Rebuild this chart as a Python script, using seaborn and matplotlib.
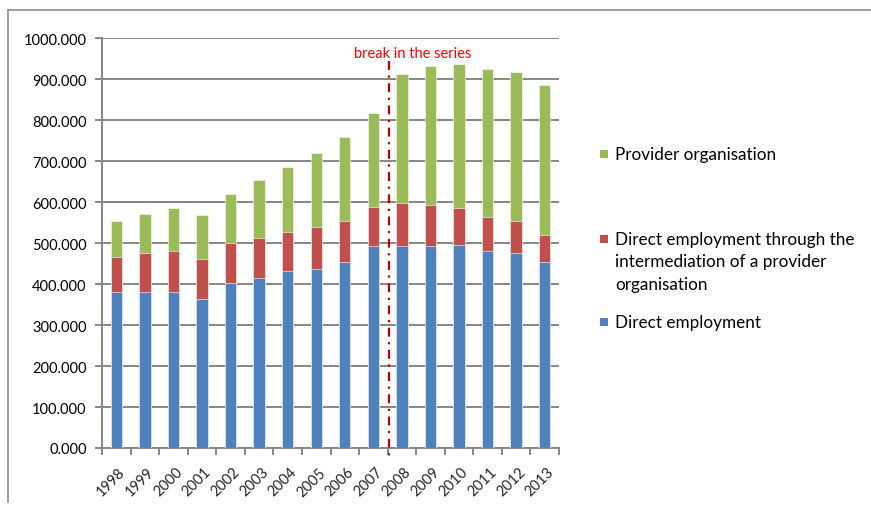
import matplotlib
matplotlib.use("Agg")
import matplotlib.pyplot as plt
from matplotlib.lines import Line2D
from matplotlib.patches import Rectangle
import seaborn as sns
import pandas as pd
import numpy as np

years = ["1998", "1999", "2000", "2001", "2002", "2003", "2004", "2005",
         "2006", "2007", "2008", "2009", "2010", "2011", "2012", "2013"]
direct_employment = [380000, 380000, 380000, 363000, 402000, 415000, 433000, 438000,
                     453000, 493000, 492000, 494000, 496000, 482000, 477000, 454000]
direct_via_provider = [87000, 95000, 100000, 98000, 99000, 98000, 95000, 101000,
                       101000, 96000, 105000, 100000, 90000, 81000, 76000, 66000]
provider_organisation = [86000, 97000, 105000, 107000, 119000, 141000, 157000, 181000,
                         204000, 229000, 317000, 338000, 351000, 361000, 364000, 365000]
y_ticks = [0, 100000, 200000, 300000, 400000, 500000, 600000, 700000, 800000, 900000, 1000000]
y_tick_labels = ["0.000", "100.000", "200.000", "300.000", "400.000", "500.000",
                 "600.000", "700.000", "800.000", "900.000", "1000.000"]
break_label = "break in the series"

BLUE = "#4F81BD"
RED = "#C0504D"
GREEN = "#9BBB59"
GRID = "#868686"

sns.set_theme(style="white")
plt.rcParams["font.family"] = ["Lato", "DejaVu Sans"]

df = pd.DataFrame({"year": years,
                   "blue": direct_employment,
                   "red": direct_via_provider,
                   "green": provider_organisation})
df["blue_top"] = df["blue"]
df["red_top"] = df["blue"] + df["red"]
df["green_top"] = df["red_top"] + df["green"]

W, H = 871, 506
fig = plt.figure(figsize=(W / 100, H / 100), dpi=100)
ax = fig.add_axes([102 / W, 1 - 449 / H, (559 - 102) / W, (449 - 39.3) / H])

for col, color in [("green_top", GREEN), ("red_top", RED), ("blue_top", BLUE)]:
    sns.barplot(data=df, x="year", y=col, color=color, width=0.4, ax=ax,
                saturation=1, edgecolor="white", linewidth=0.4, zorder=3)

ax.set_xlim(-0.5, len(years) - 0.5)
ax.set_ylim(0, 1000000)
ax.set_yticks(y_ticks)
ax.set_yticklabels(y_tick_labels, fontsize=10.5, color="black")
ax.set_xlabel("")
ax.set_ylabel("")
ax.grid(axis="y", color=GRID, linewidth=1.4, zorder=0)
ax.set_axisbelow(True)

for s in ["top", "right"]:
    ax.spines[s].set_visible(False)
for s in ["left", "bottom"]:
    ax.spines[s].set_color(GRID)
    ax.spines[s].set_linewidth(1.4)

ax.tick_params(axis="y", which="major", left=True, length=5, width=1.4, color=GRID, pad=6)
ax.set_xticks(np.arange(len(years)))
ax.set_xticklabels(years, rotation=45, ha="right", rotation_mode="anchor", fontsize=10.5)
ax.tick_params(axis="x", which="major", bottom=False, length=0, pad=12)
ax.set_xticks(np.arange(len(years) + 1) - 0.5, minor=True)
ax.tick_params(axis="x", which="minor", bottom=True, length=5, width=1.4, color=GRID)
for lbl in ax.get_xticklabels():
    lbl.set_transform(lbl.get_transform() + matplotlib.transforms.ScaledTranslation(2 / 100, 0, fig.dpi_scale_trans))

# break in the series
ax.plot([9.55, 9.55], [944000, -20000], color="#C00000", linewidth=1.6,
        linestyle=(0, (4, 2.5, 1, 2.5)), clip_on=False, zorder=5)
ax.text(10.37, 963000, break_label, color="#FF0000", ha="center", va="center", fontsize=10.5)

# legend (manual, Excel-like placement)
leg_items = [(155, GREEN, ["Provider organisation"]),
             (240, RED, ["Direct employment through the",
                         "intermediation of a provider", "organisation"]),
             (323, BLUE, ["Direct employment"])]
for ypx, color, lines in leg_items:
    fig.patches.append(Rectangle((600 / W, 1 - (ypx + 3.5) / H), 7.5 / W, 7.5 / H,
                                 transform=fig.transFigure, facecolor=color,
                                 edgecolor="none", figure=fig))
    for i, line in enumerate(lines):
        fig.text(615 / W, 1 - (ypx + i * 22.5) / H, line, fontsize=12.3,
                 ha="left", va="center", color="black")

# outer frame lines
fig.add_artist(Line2D([8 / W, 1], [1 - 10.5 / H, 1 - 10.5 / H], transform=fig.transFigure,
                      color="#8C8C8C", linewidth=1.2))
fig.add_artist(Line2D([8 / W, 8 / W], [1 - 10.5 / H, 1 - 503 / H], transform=fig.transFigure,
                      color="#8C8C8C", linewidth=1.2))

fig.savefig("out.png", dpi=100)
